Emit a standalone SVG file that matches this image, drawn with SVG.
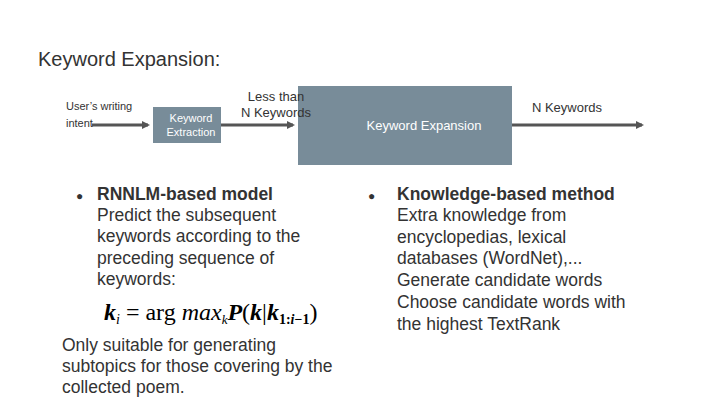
<svg xmlns="http://www.w3.org/2000/svg" width="720" height="405" viewBox="0 0 720 405">
<style>
.t{font-family:"Liberation Sans",Arial,sans-serif;fill:#333}
.w{font-family:"Liberation Sans",Arial,sans-serif;fill:#fff}
.box{fill:#788c99}
.c{stroke:#555;stroke-width:3;fill:none}
.m{font-family:"Liberation Serif","DejaVu Serif",serif;fill:#000;font-size:24px}
</style>
<defs><marker id="a" markerWidth="8" markerHeight="8" refX="6" refY="4" orient="auto" markerUnits="userSpaceOnUse"><path d="M0,0L8,4L0,8z" fill="#555"/></marker></defs>
<rect width="720" height="405" fill="#fff"/>
<text class="t" x="38" y="66" font-size="20">Keyword Expansion:</text>
<g id="input"><text class="t" font-size="11"><tspan x="66" y="110">User’s writing</tspan><tspan x="66" y="127">intent</tspan></text></g>
<g id="extract"><rect class="box" x="153" y="107" width="68" height="36"/><text class="w" font-size="11" text-anchor="middle"><tspan x="191" y="122">Keyword</tspan><tspan x="191" y="136">Extraction</tspan></text></g>
<g id="expand"><rect class="box" x="298" y="86" width="214" height="79"/><text class="w" font-size="13" x="424" y="130" text-anchor="middle">Keyword Expansion</text></g>
<g id="conn">
<line class="c" x1="92" y1="125" x2="148" y2="125" marker-end="url(#a)"/>
<line class="c" x1="221" y1="125" x2="293" y2="125" marker-end="url(#a)"/>
<line class="c" x1="512" y1="125" x2="642" y2="125" marker-end="url(#a)"/>
<text class="t" font-size="13" text-anchor="middle"><tspan x="276" y="101">Less than</tspan><tspan x="276" y="117">N Keywords</tspan></text>
<text class="t" font-size="13" x="567" y="112" text-anchor="middle">N Keywords</text>
</g>
<g class="t" font-size="17.5">
<text x="76" y="200" font-size="12">●</text>
<text x="97" y="200" font-weight="bold">RNNLM-based model</text>
<text><tspan x="97" y="221">Predict the subsequent</tspan><tspan x="97" y="242">keywords according to the</tspan><tspan x="97" y="264">preceding sequence of</tspan><tspan x="97" y="285">keywords:</tspan></text>
<text><tspan x="62" y="351">Only suitable for generating</tspan><tspan x="62" y="372">subtopics for those covering by the</tspan><tspan x="62" y="393">collected poem.</tspan></text>
<text x="368" y="200" font-size="12">●</text>
<text x="397" y="200" font-weight="bold">Knowledge-based method</text>
<text><tspan x="397" y="221">Extra knowledge from</tspan><tspan x="397" y="243">encyclopedias, lexical</tspan><tspan x="397" y="264">databases (WordNet),...</tspan><tspan x="397" y="286">Generate candidate words</tspan><tspan x="397" y="308">Choose candidate words with</tspan><tspan x="397" y="330">the highest TextRank</tspan></text>
</g>
<text class="m" x="104" y="320"><tspan font-style="italic" font-weight="bold">k</tspan><tspan font-size="14" dy="4" font-style="italic">i</tspan><tspan dy="-4"> = arg </tspan><tspan font-style="italic">max</tspan><tspan font-size="13" dy="4" font-style="italic">k</tspan><tspan dy="-4" font-style="italic" font-weight="bold">P</tspan><tspan>(</tspan><tspan font-style="italic" font-weight="bold">k</tspan><tspan>|</tspan><tspan font-style="italic" font-weight="bold">k</tspan><tspan font-size="14" dy="4" font-weight="bold">1:<tspan font-style="italic">i</tspan>−1</tspan><tspan dy="-4">)</tspan></text>
</svg>
